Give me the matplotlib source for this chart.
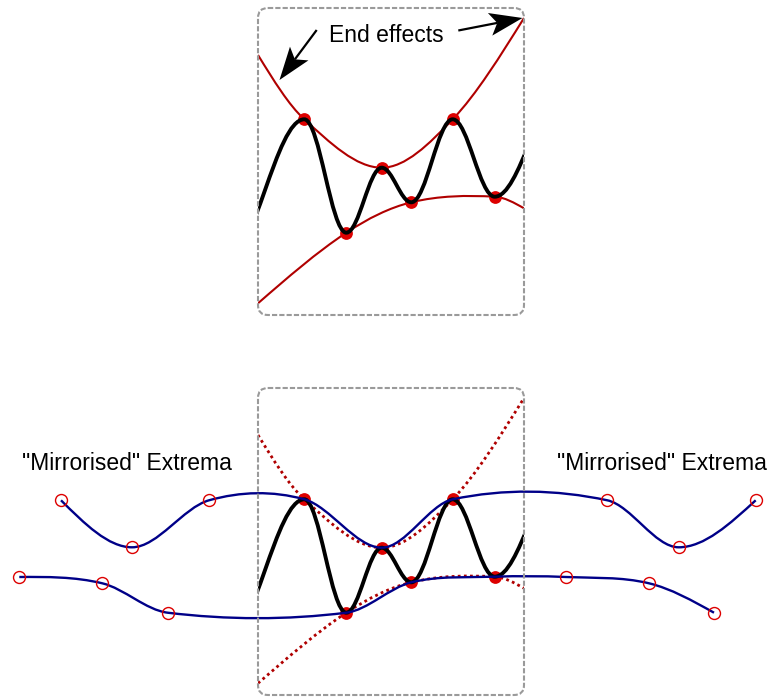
import matplotlib
matplotlib.use("Agg")
import numpy as np
import matplotlib.pyplot as plt
from matplotlib.path import Path
from matplotlib.patches import PathPatch, FancyBboxPatch, Polygon

plt.rcParams['font.family'] = ['Liberation Sans', 'DejaVu Sans']

# everything is in picture pixels (y grows downward)
# signal extrema, first and last are off-box points that set the ends
sig_x = [225.7, 304.3, 346.3, 381.7, 411.3, 452.7, 494.7, 564]
sig_y = [261, 119.3, 232.7, 167.7, 202.3, 119.3, 196.7, 90]

max_x = [304.3, 381.7, 452.7]
max_y = [119.3, 167.7, 119.3]
min_x = [346.3, 411.3, 494.7]
min_y = [232.7, 202.3, 196.7]

# spline envelopes as seen in the top panel (ends read at the box edges)
up_env_x = [258, 304.3, 381.7, 452.7, 524]
up_env_y = [55, 119.3, 167.7, 119.3, 18]
lo_env_x = [258, 346.3, 411.3, 494.7, 524]
lo_env_y = [303.3, 232.7, 202.3, 196.7, 208.3]

# mirrored extrema (bottom panel, without the 380 px shift)
mir_max_x = [61, 132, 209, 607.3, 678.7, 755.7]
mir_max_y = [120.3, 167.3, 120.3, 120.3, 167.3, 120.3]
mir_min_x = [19.3, 102.3, 167.7, 565.7, 649, 714]
mir_min_y = [197, 203.3, 232.7, 197, 203.3, 232.7]

# "End effects" arrows: (start, tip)
arrows = [((316.7, 30), (279.5, 80)), ((458.3, 30.5), (522.5, 18))]

box_x, box_w, box_h = 258, 266, 307
panel_top = [8, 388]


def curve(xs, ys, k=1/3, flat=False):
    n = len(xs)
    ms = [0.0] * n
    if not flat:
        for i in range(1, n - 1):
            ms[i] = (ys[i + 1] - ys[i - 1]) / (xs[i + 1] - xs[i - 1])
        ms[0] = 1.5 * (ys[1] - ys[0]) / (xs[1] - xs[0]) - 0.5 * ms[1]
        ms[-1] = 1.5 * (ys[-1] - ys[-2]) / (xs[-1] - xs[-2]) - 0.5 * ms[-2]
    verts = [(xs[0], ys[0])]
    codes = [Path.MOVETO]
    for i in range(n - 1):
        dx = xs[i + 1] - xs[i]
        verts += [(xs[i] + k * dx, ys[i] + ms[i] * k * dx),
                  (xs[i + 1] - k * dx, ys[i + 1] - ms[i + 1] * k * dx),
                  (xs[i + 1], ys[i + 1])]
        codes += [Path.CURVE4] * 3
    return Path(verts, codes)


def shifted(ys, dy):
    return [y + dy for y in ys]


def notched_arrow(ax, start, tip, length=33, half=11.5):
    s, t = np.array(start), np.array(tip)
    u = (t - s) / np.hypot(*(t - s))
    n = np.array([-u[1], u[0]])
    notch = t - 0.78 * length * u
    ax.plot([s[0], notch[0]], [s[1], notch[1]], color='black', lw=1.6,
            solid_capstyle='butt', zorder=7)
    head = [t, t - length * u + half * n, notch, t - length * u - half * n]
    ax.add_patch(Polygon(head, closed=True, fc='black', ec='none', zorder=7))


fig = plt.figure(figsize=(7.71, 7.0), dpi=100)
ax = fig.add_axes([0, 0, 1, 1])
ax.set_xlim(0, 771)
ax.set_ylim(700, 0)
ax.axis('off')

for p, top in enumerate(panel_top):
    dy = top - panel_top[0]
    box = FancyBboxPatch((box_x, top), box_w, box_h,
                         boxstyle="round,pad=0,rounding_size=10",
                         fc='none', ec='#9a9a9a', lw=1.5,
                         ls=(0, (2.5, 1)), zorder=6)
    ax.add_patch(box)
    clip = FancyBboxPatch((box_x, top), box_w, box_h,
                          boxstyle="round,pad=0,rounding_size=10",
                          fc='none', ec='none')
    ax.add_patch(clip)

    env_style = dict(fc='none', ec='#b00000', lw=1.5, zorder=1)
    if p == 1:
        env_style.update(ls=(0, (1, 1.2)), lw=2)
    for ex, ey in [(up_env_x, up_env_y), (lo_env_x, lo_env_y)]:
        pp = PathPatch(curve(ex, shifted(ey, dy)), **env_style)
        ax.add_patch(pp)
        pp.set_clip_path(clip)

    ax.plot(max_x + min_x, shifted(max_y + min_y, dy), 'o', color='#dd0000',
            ms=9.2, mec='none', zorder=2)

    sig = PathPatch(curve(sig_x, shifted(sig_y, dy), k=0.364, flat=True),
                    fc='none', ec='black', lw=2.8, zorder=3,
                    capstyle='butt')
    ax.add_patch(sig)
    sig.set_clip_path(clip)

# blue envelopes through mirrored + real extrema
bx = mir_max_x[:3] + max_x + mir_max_x[3:]
by = shifted(mir_max_y[:3] + max_y + mir_max_y[3:], 380)
ax.add_patch(PathPatch(curve(bx, by), fc='none', ec='#000088', lw=1.7, zorder=4))
bx = mir_min_x[:3] + min_x + mir_min_x[3:]
by = shifted(mir_min_y[:3] + min_y + mir_min_y[3:], 380)
ax.add_patch(PathPatch(curve(bx, by), fc='none', ec='#000088', lw=1.7, zorder=4))

ax.plot(mir_max_x + mir_min_x, shifted(mir_max_y + mir_min_y, 380), 'o',
        mfc='none', mec='#dd0000', ms=8.6, mew=1.0, zorder=5)

ax.text(386, 36, 'End effects', ha='center', va='center', fontsize=16.5)
for start, tip in arrows:
    notched_arrow(ax, start, tip)

ax.text(126.7, 463, '"Mirrorised" Extrema', ha='center', va='center', fontsize=16.5)
ax.text(661.7, 463, '"Mirrorised" Extrema', ha='center', va='center', fontsize=16.5)

fig.savefig('out.png', dpi=100)
